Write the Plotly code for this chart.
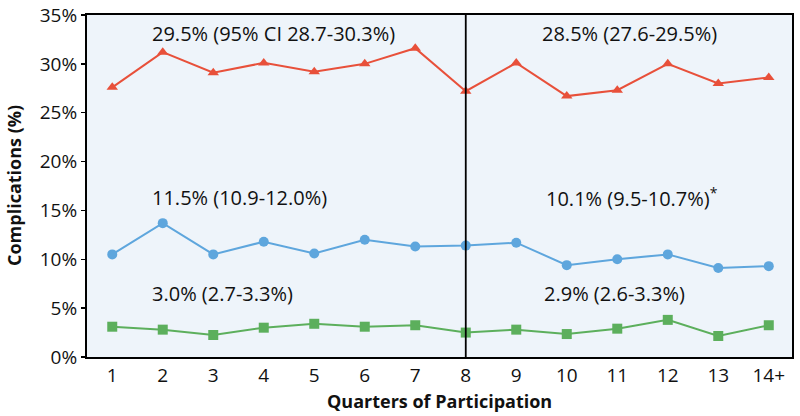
import plotly.graph_objects as go

quarters = [1, 2, 3, 4, 5, 6, 7, 8, 9, 10, 11, 12, 13, 14]
tick_labels = ["1", "2", "3", "4", "5", "6", "7", "8", "9", "10", "11", "12", "13", "14+"]
any_complication = [27.6, 31.2, 29.1, 30.1, 29.2, 30.0, 31.6, 27.2, 30.1, 26.7, 27.3, 30.0, 28.0, 28.6]
major_complication = [10.5, 13.7, 10.5, 11.8, 10.6, 12.0, 11.3, 11.4, 11.7, 9.4, 10.0, 10.5, 9.1, 9.3]
in_hospital = [3.1, 2.8, 2.25, 3.0, 3.4, 3.1, 3.25, 2.5, 2.8, 2.35, 2.9, 3.8, 2.15, 3.25]
y_ticks = [0, 5, 10, 15, 20, 25, 30, 35]
y_tick_labels = ["0%", "5%", "10%", "15%", "20%", "25%", "30%", "35%"]

ann_text = [
    "29.5% (95% CI 28.7-30.3%)", "28.5% (27.6-29.5%)",
    "11.5% (10.9-12.0%)", "10.1% (9.5-10.7%)<sup>*</sup>",
    "3.0% (2.7-3.3%)", "2.9% (2.6-3.3%)",
]
ann_x = [1.75, 9.47, 1.75, 9.55, 1.75, 9.5]
ann_y = [33.15, 33.15, 16.3, 16.3, 6.55, 6.55]

FONT = "Open Sans"
fig = go.Figure()
series = [
    (any_complication, "#E8503A", "triangle-up", 10),
    (major_complication, "#5EA6DD", "circle", 10),
    (in_hospital, "#5CAF5C", "square", 10),
]
for vals, col, sym, sz in series:
    fig.add_trace(go.Scatter(
        x=quarters, y=vals, mode="lines+markers",
        line=dict(color=col, width=2),
        marker=dict(symbol=sym, size=sz, color=col),
        showlegend=False, hoverinfo="skip",
    ))

fig.add_vline(x=8, line=dict(color="black", width=1.8))

for t, x, y in zip(ann_text, ann_x, ann_y):
    fig.add_annotation(x=x, y=y, xref="x", yref="y", text=t, showarrow=False,
                       xanchor="left", yanchor="middle",
                       font=dict(family=FONT, size=20, color="#111111"))

# axis titles
fig.add_annotation(x=0.5, y=-0.1287, xref="paper", yref="paper",
                   text="<b>Quarters of Participation</b>", showarrow=False,
                   xanchor="center", yanchor="middle",
                   font=dict(family=FONT, size=18, color="#111111"))
fig.add_annotation(x=-0.1035, y=0.5, xref="paper", yref="paper",
                   text="<b>Complications (%)</b>", showarrow=False, textangle=-90,
                   xanchor="center", yanchor="middle",
                   font=dict(family=FONT, size=18, color="#111111"))

fig.update_layout(
    width=800, height=416,
    margin=dict(l=87, r=8, t=15, b=59),
    paper_bgcolor="white", plot_bgcolor="#EEF4FA",
    font=dict(family=FONT, size=19, color="#111111"),
)
fig.update_xaxes(
    range=[0.5, 14.46], tickvals=quarters, ticktext=tick_labels,
    showgrid=False, zeroline=False, automargin=False,
    showline=True, linecolor="black", linewidth=2, mirror=True,
    ticks="", tickfont=dict(size=19),
)
fig.update_yaxes(
    range=[0, 35], tickvals=y_ticks, ticktext=y_tick_labels,
    showgrid=False, zeroline=False, automargin=False,
    showline=True, linecolor="black", linewidth=2, mirror=True,
    ticks="outside", ticklen=4, tickwidth=1.5, tickcolor="black", tickfont=dict(size=19),
)
fig.write_html(
    "out.html",
    config={"displayModeBar": False, "staticPlot": True},
    post_script="document.body.style.margin='0';document.body.style.overflow='hidden';",
)
